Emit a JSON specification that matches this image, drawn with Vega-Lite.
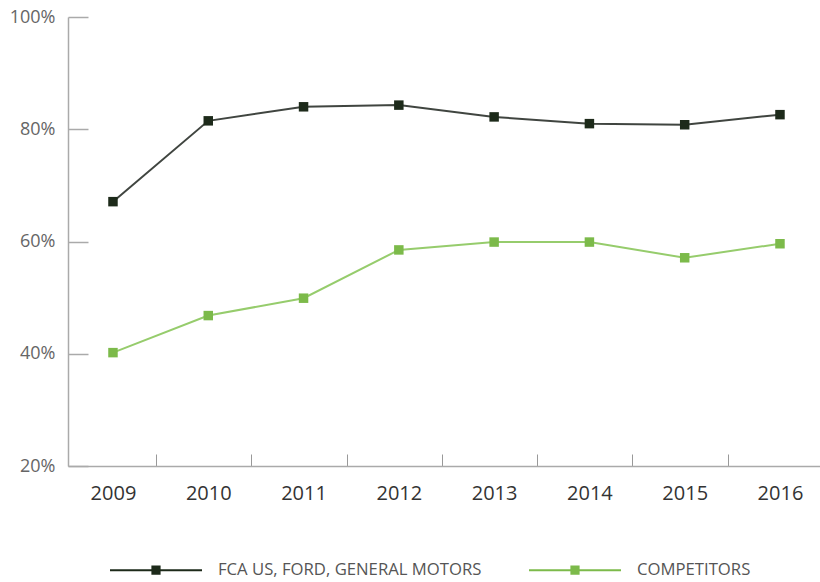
{
  "$schema": "https://vega.github.io/schema/vega-lite/v6.json",
  "autosize": {"type": "none"},
  "width": 752,
  "height": 449,
  "padding": {"left": 68, "top": 17, "right": 0, "bottom": 116},
  "background": "white",
  "config": {"view": {"stroke": null}, "font": "Open Sans"},
  "data": {"values": [
    {"series": "FCA US, FORD, GENERAL MOTORS", "year": 2009, "value": 67.1},
    {"series": "FCA US, FORD, GENERAL MOTORS", "year": 2010, "value": 81.5},
    {"series": "FCA US, FORD, GENERAL MOTORS", "year": 2011, "value": 84.0},
    {"series": "FCA US, FORD, GENERAL MOTORS", "year": 2012, "value": 84.3},
    {"series": "FCA US, FORD, GENERAL MOTORS", "year": 2013, "value": 82.2},
    {"series": "FCA US, FORD, GENERAL MOTORS", "year": 2014, "value": 81.0},
    {"series": "FCA US, FORD, GENERAL MOTORS", "year": 2015, "value": 80.8},
    {"series": "FCA US, FORD, GENERAL MOTORS", "year": 2016, "value": 82.6},
    {"series": "COMPETITORS", "year": 2009, "value": 40.2},
    {"series": "COMPETITORS", "year": 2010, "value": 46.8},
    {"series": "COMPETITORS", "year": 2011, "value": 49.9},
    {"series": "COMPETITORS", "year": 2012, "value": 58.5},
    {"series": "COMPETITORS", "year": 2013, "value": 59.9},
    {"series": "COMPETITORS", "year": 2014, "value": 59.9},
    {"series": "COMPETITORS", "year": 2015, "value": 57.1},
    {"series": "COMPETITORS", "year": 2016, "value": 59.6}
  ]},
  "encoding": {
    "x": {
      "field": "year", "type": "quantitative",
      "scale": {"domain": [2008.528, 2016.42], "nice": false, "zero": false},
      "axis": {
        "title": null, "values": [2009, 2010, 2011, 2012, 2013, 2014, 2015, 2016],
        "format": "d", "grid": false,
        "tickOffset": 43, "labelOffset": -43,
        "tickSize": -12, "tickColor": "#999", "tickWidth": 1,
        "domainColor": "#aaa", "domainWidth": 1.5,
        "labelFontSize": 20, "labelColor": "#333", "labelPadding": 29,
        "labelFont": "Open Sans"
      }
    },
    "y": {
      "field": "value", "type": "quantitative",
      "scale": {"domain": [20, 100], "nice": false, "zero": false},
      "axis": {
        "title": null, "values": [20, 40, 60, 80, 100],
        "labelExpr": "datum.value + '%'", "grid": false,
        "tickSize": -20, "tickColor": "#aaa", "tickWidth": 1.5,
        "domainColor": "#aaa", "domainWidth": 1.5,
        "labelFontSize": 18, "labelColor": "#666", "labelPadding": 33,
        "labelFont": "Open Sans"
      }
    }
  },
  "layer": [
    {
      "mark": {"type": "line", "strokeWidth": 2},
      "encoding": {
        "color": {
          "field": "series", "type": "nominal",
          "scale": {"domain": ["FCA US, FORD, GENERAL MOTORS", "COMPETITORS"], "range": ["#404540", "#96cc6c"]},
          "legend": null
        }
      }
    },
    {
      "mark": {"type": "point", "shape": "square", "filled": true, "size": 90, "opacity": 1},
      "encoding": {
        "color": {
          "field": "series", "type": "nominal",
          "scale": {"domain": ["FCA US, FORD, GENERAL MOTORS", "COMPETITORS"], "range": ["#1d2a1a", "#7cba4a"]},
          "legend": {
            "title": null, "orient": "none", "direction": "horizontal",
            "legendX": 42, "legendY": 507,
            "symbolType": "M-1,-0.022H1V0.022H-1Z M-0.1,-0.1H0.1V0.1H-0.1Z",
            "symbolSize": 8464, "symbolStrokeWidth": 0, "symbolOpacity": 1,
            "labelFontSize": 16.7, "labelColor": "#555", "labelOffset": 16,
            "labelFont": "Open Sans", "columnPadding": 47, "labelLimit": 400
          }
        }
      }
    }
  ],
  "resolve": {"scale": {"color": "independent"}}
}
